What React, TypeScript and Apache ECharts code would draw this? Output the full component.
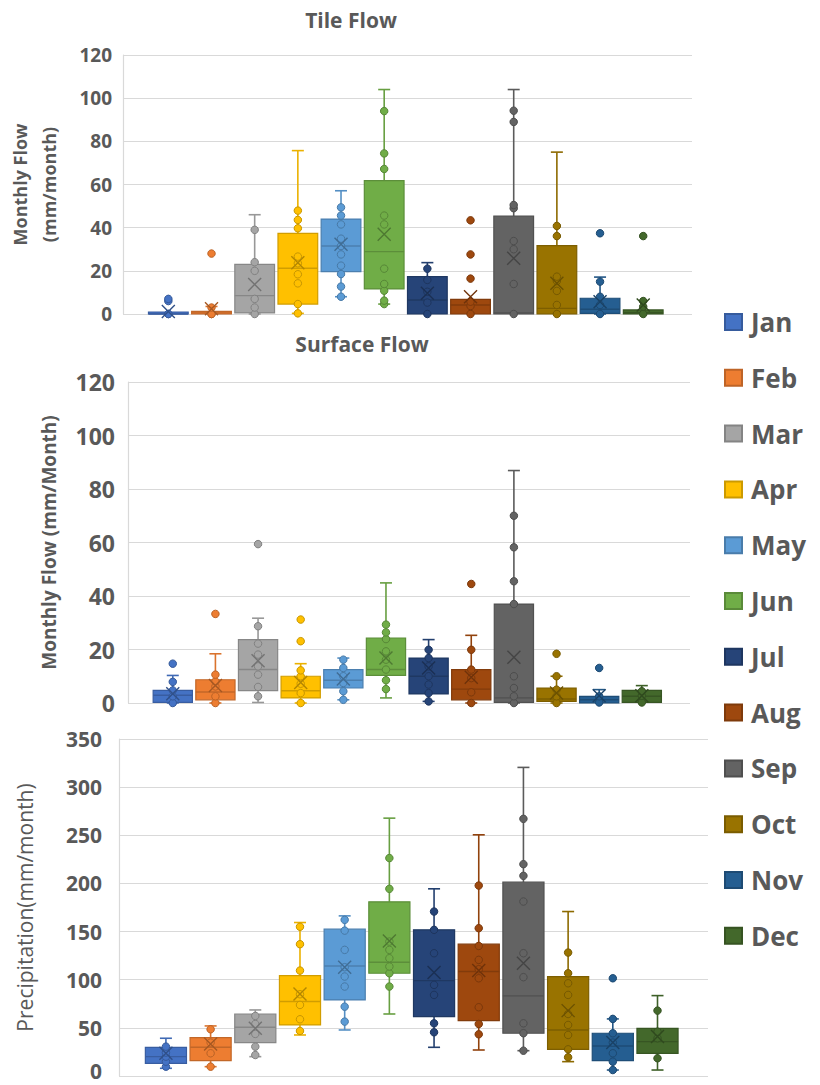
import React, { useEffect, useRef } from "react";
import * as echarts from "echarts";

const months = ["Jan", "Feb", "Mar", "Apr", "May", "Jun", "Jul", "Aug", "Sep", "Oct", "Nov", "Dec"];
const monthColors = ["#4472C4", "#ED7D31", "#A5A5A5", "#FFC000", "#5B9BD5", "#70AD47", "#264478", "#9E480E", "#636363", "#997300", "#255E91", "#43682B"];

// [min, q1, median, q3, max]
const tileBoxes = [
  [0, 0, 0, 0.5, 0.5],
  [0, 0, 0.5, 1.2, 3.5],
  [0, 0.5, 8.5, 23, 46],
  [0.3, 4.6, 21.2, 37.4, 75.7],
  [8, 19.6, 31.5, 44, 57.1],
  [4.6, 11.6, 28.9, 61.8, 104],
  [0, 0, 6.5, 17.3, 23.8],
  [0, 0, 4.2, 6.8, 7],
  [0, 0, 0.5, 45.4, 104],
  [0, 0, 2.6, 31.7, 75],
  [0, 0.3, 2.2, 7.3, 17.1],
  [0, 0, 0.6, 1.9, 1.9],
];
const tilePoints = [
  [0, 0, 6, 7],
  [0, 0, 3, 28],
  [0, 3, 7, 20, 24, 39],
  [0.3, 4.6, 14.2, 18.4, 23.5, 26.6, 39.7, 43.6, 47.9],
  [8, 12.7, 18.5, 22.4, 27.6, 31.5, 34.9, 41.5, 45.6, 49.4],
  [4.6, 6.2, 10.8, 13.9, 21, 41.5, 45.6, 67.2, 74.4, 94],
  [0, 5.3, 10.3, 15.8, 21],
  [0, 3.7, 5.7, 16.4, 27.6, 43.4],
  [0, 13.9, 30, 33.8, 49, 50.5, 89, 94.2],
  [0, 4.2, 10.7, 15.3, 17.3, 36.1, 40.8],
  [0, 4.2, 8, 15, 37.4],
  [0, 3.4, 6, 36.1],
];
const tileMeans = [1.2, 2.4, 13.7, 23.8, 32.3, 36.9, 9.6, 8, 25.8, 14.2, 5.7, 4.2];

const surfaceBoxes = [
  [0, 0.2, 2.9, 4.7, 10.3],
  [0, 1.2, 4.1, 8.7, 18.4],
  [0.2, 4.6, 12.5, 23.7, 31.7],
  [0, 1.9, 4.6, 10, 14.7],
  [1.2, 5.6, 8.5, 12.5, 16.8],
  [1.9, 10.3, 12.5, 24.3, 44.9],
  [0.6, 3.4, 10, 16.8, 23.7],
  [0, 1.2, 5.2, 12.5, 25.3],
  [0, 0.2, 1.9, 37, 86.9],
  [0, 0.6, 1.5, 5.6, 10],
  [0, 0, 1.2, 2.5, 5],
  [0.2, 0.2, 2.5, 4.7, 6.5],
];
const surfacePoints = [
  [0, 2.5, 4.7, 7.9, 14.7],
  [0, 2.5, 6.2, 8.1, 10.6, 33.3],
  [2.5, 6, 10.6, 13.7, 18.1, 22.2, 28.7, 59.4],
  [0, 3.7, 7.2, 10, 12.2, 23.1, 31.2],
  [1.2, 4.4, 7.5, 10, 13.1, 16.2],
  [5.2, 8.5, 12.5, 16.2, 19.3, 23.9, 26.4, 29.3],
  [0.6, 3.7, 6.9, 10, 13.7, 16.8, 19.9],
  [0, 4, 9.3, 12.5, 19.9, 44.5],
  [0, 2.5, 5.6, 10, 37, 45.5, 58.2, 70],
  [0, 2.5, 5, 10, 18.4],
  [0.2, 2.5, 13.1],
  [0.2, 2.7, 4.4],
];
const surfaceMeans = [3.5, 6.5, 15.8, 7.7, 9, 16.8, 13.1, 9.6, 17.1, 3.7, 2.7, 2.7];

const precipBoxes = [
  [8, 13.2, 20.1, 29.8, 39.2],
  [9.7, 15.9, 29.8, 39.8, 52],
  [20.1, 34.7, 50.6, 64.4, 68.6],
  [42.6, 53, 77.3, 104.3, 159.4],
  [47.8, 79, 114.3, 152.5, 166.3],
  [64.4, 106.7, 118.2, 180.9, 267.8],
  [29.8, 61.7, 99.1, 151.8, 194.4],
  [27, 57.5, 108.5, 136.9, 250.5],
  [26.3, 44.4, 83.2, 201.3, 320.5],
  [14.9, 27.7, 47.8, 103.3, 170.8],
  [6.2, 15.9, 31.2, 44.4, 59.3],
  [6.2, 23.6, 35.7, 49.5, 83.5],
];
const precipPoints = [
  [9.7, 14.9, 20.1, 24.3, 30.5],
  [9.7, 23.6, 34.7, 48.5],
  [21.8, 30.5, 43.7, 54, 62.4],
  [46.8, 58.9, 73.8, 84.9, 109.5, 136.9, 155],
  [56.5, 72, 92.9, 103.3, 113, 131, 151, 162.2],
  [92.9, 106.7, 113.7, 122.3, 131, 139.6, 194.4, 226.3],
  [45.4, 54.7, 84.2, 94.6, 127.5, 151.8, 170.8],
  [43.3, 54, 71.4, 101.5, 110.9, 120.6, 135.1, 153.5, 197.8],
  [26.3, 44.4, 54.7, 102.6, 127.5, 181.2, 207.9, 220, 267.1],
  [19.4, 27.7, 42.6, 53, 64.4, 84.2, 96.3, 106.7, 128.2],
  [6.2, 14.9, 23.6, 34.7, 44.4, 59.3, 101.5],
  [18.4, 39.2, 46, 67.9],
];
const precipMeans = [23.6, 33.3, 49.5, 85.2, 113, 140.3, 107.4, 109.5, 117.1, 67.9, 34.7, 40.9];

const FONT = "'Open Sans', 'DejaVu Sans', sans-serif";
const GRAY = "#595959";
const BOX_W = 0.92;

function shade(hex: string, f: number) {
  const n = parseInt(hex.slice(1), 16);
  const r = Math.round(((n >> 16) & 255) * f);
  const g = Math.round(((n >> 8) & 255) * f);
  const b = Math.round((n & 255) * f);
  return `rgb(${r},${g},${b})`;
}

function boxSeries(boxes: number[][], ax: number) {
  return {
    type: "custom",
    xAxisIndex: ax,
    yAxisIndex: ax,
    z: 2,
    data: boxes.map((b, i) => [i, ...b]),
    encode: { x: 0, y: [1, 2, 3, 4, 5] },
    renderItem: (params: any, api: any) => {
      const i = api.value(0);
      const c = monthColors[params.dataIndex];
      const bc = shade(c, 0.82);
      const half = api.size([BOX_W, 0])[0] / 2;
      const pMin = api.coord([i, api.value(1)]);
      const pQ1 = api.coord([i, api.value(2)]);
      const pMed = api.coord([i, api.value(3)]);
      const pQ3 = api.coord([i, api.value(4)]);
      const pMax = api.coord([i, api.value(5)]);
      const x = pQ1[0];
      const cap = 6;
      const h = Math.max(pQ1[1] - pQ3[1], 2);
      const wl = { stroke: shade(c, 0.92), lineWidth: 1.6 };
      const children: any[] = [];
      if (pMax[1] < pQ3[1] - 0.5) {
        children.push({ type: "line", shape: { x1: x, y1: pQ3[1], x2: x, y2: pMax[1] }, style: wl });
        children.push({ type: "line", shape: { x1: x - cap, y1: pMax[1], x2: x + cap, y2: pMax[1] }, style: wl });
      }
      if (pMin[1] > pQ1[1] + 0.5) {
        children.push({ type: "line", shape: { x1: x, y1: pQ1[1], x2: x, y2: pMin[1] }, style: wl });
        children.push({ type: "line", shape: { x1: x - cap, y1: pMin[1], x2: x + cap, y2: pMin[1] }, style: wl });
      }
      children.push({
        type: "rect",
        shape: { x: x - half, y: pQ1[1] - h, width: 2 * half, height: h },
        style: { fill: c, stroke: bc, lineWidth: 1.2 },
      });
      children.push({
        type: "line",
        shape: { x1: x - half, y1: pMed[1], x2: x + half, y2: pMed[1] },
        style: { stroke: bc, lineWidth: 1.4 },
      });
      return { type: "group", children };
    },
  };
}

function pointSeries(pts: number[][], ax: number) {
  return {
    type: "scatter",
    xAxisIndex: ax,
    yAxisIndex: ax,
    z: 3,
    symbol: "circle",
    symbolSize: 7.5,
    itemStyle: { opacity: 1 },
    data: pts.flatMap((arr, i) =>
      arr.map((v) => ({
        value: [i, v],
        itemStyle: { color: monthColors[i], borderColor: shade(monthColors[i], 0.78), borderWidth: 1, opacity: 1 },
      }))
    ),
  };
}

function meanSeries(means: number[], ax: number) {
  return {
    type: "scatter",
    xAxisIndex: ax,
    yAxisIndex: ax,
    z: 4,
    symbol: "path://M0,0L10,10M10,0L0,10",
    symbolSize: 13,
    itemStyle: { opacity: 1 },
    data: means.map((v, i) => ({
      value: [i, v],
      itemStyle: { color: "transparent", borderColor: shade(monthColors[i], 0.7), borderWidth: 1.4, opacity: 1 },
    })),
  };
}

function yAxisCfg(ax: number, max: number, interval: number, name: string, o: any) {
  const label: any = { fontSize: o.labelSize, fontWeight: "bold", color: GRAY, margin: o.margin, fontFamily: FONT, lineHeight: o.labelLH };
  if (o.liftZero) {
    label.formatter = (v: number) => (v === 0 ? "{z|0}" : String(v));
    label.rich = {
      z: { fontSize: o.labelSize, fontWeight: "bold", color: GRAY, fontFamily: FONT, lineHeight: o.labelLH, padding: [0, 0, o.liftZero, 0] },
    };
  }
  return {
    gridIndex: ax,
    type: "value",
    min: 0,
    max,
    interval,
    axisLabel: label,
    splitLine: { lineStyle: { color: "#d9d9d9", width: 1.2 } },
    axisLine: { show: true, onZero: false, lineStyle: { color: "#d9d9d9", width: 1.2 } },
    axisTick: { show: false },
    name,
    nameLocation: "middle",
    nameGap: o.nameGap,
    nameTextStyle: {
      fontSize: o.nameSize,
      fontWeight: o.nameWeight,
      color: GRAY,
      fontFamily: FONT,
      lineHeight: o.nameLH,
    },
  };
}

export default function App() {
  const ref = useRef<HTMLDivElement>(null);
  useEffect(() => {
    if (!ref.current) return;
    const chart = echarts.init(ref.current, null, { renderer: "svg" });
    const xAxis = [0, 1, 2].map((g) => ({
      gridIndex: g,
      type: "value",
      min: -1.05,
      max: 12.13,
      show: false,
    }));
    const option: any = {
      animation: false,
      backgroundColor: "#ffffff",
      textStyle: { fontFamily: FONT },
      grid: [
        { left: 123, top: 55, width: 569, height: 259, outerBoundsMode: "none" },
        { left: 128, top: 382, width: 562, height: 321, outerBoundsMode: "none" },
        { left: 119, top: 739, width: 589, height: 337, outerBoundsMode: "none" },
      ],
      xAxis,
      yAxis: [
        yAxisCfg(0, 120, 20, "Monthly Flow\n(mm/month)", { labelSize: 19, labelLH: 20, margin: 11, nameGap: 60, nameSize: 18, nameWeight: "bold", nameLH: 29 }),
        yAxisCfg(1, 120, 20, "Monthly Flow (mm/Month)", { labelSize: 23, labelLH: 22, margin: 13, nameGap: 68, nameSize: 19, nameWeight: "bold", nameLH: 22 }),
        yAxisCfg(2, 350, 50, "Precipitation(mm/month)", { labelSize: 21, labelLH: 18, liftZero: 10, margin: 17, nameGap: 82, nameSize: 21, nameWeight: "normal", nameLH: 24 }),
      ],
      legend: {
        orient: "vertical",
        left: 719,
        top: 302,
        icon: "rect",
        itemWidth: 17,
        itemHeight: 16,
        itemGap: 25.8,
        selectedMode: false,
        textStyle: { fontSize: 26, fontWeight: "bold", color: GRAY, fontFamily: FONT, lineHeight: 30, padding: [0, 0, 0, 4] },
        data: months,
      },
      graphic: [
        {
          type: "text",
          x: 351,
          y: 20,
          style: { text: "Tile Flow", fontSize: 21, fontWeight: "bold", fontFamily: FONT, fill: GRAY, align: "center", verticalAlign: "middle" },
        },
        {
          type: "text",
          x: 362,
          y: 344,
          style: { text: "Surface Flow", fontSize: 21, fontWeight: "bold", fontFamily: FONT, fill: GRAY, align: "center", verticalAlign: "middle" },
        },
      ],
      series: [
        boxSeries(tileBoxes, 0),
        pointSeries(tilePoints, 0),
        meanSeries(tileMeans, 0),
        boxSeries(surfaceBoxes, 1),
        pointSeries(surfacePoints, 1),
        meanSeries(surfaceMeans, 1),
        boxSeries(precipBoxes, 2),
        pointSeries(precipPoints, 2),
        meanSeries(precipMeans, 2),
        ...months.map((m, i) => ({
          type: "scatter",
          name: m,
          xAxisIndex: 0,
          yAxisIndex: 0,
          data: [],
          itemStyle: { color: monthColors[i], borderColor: shade(monthColors[i], 0.8), borderWidth: 1, opacity: 1 },
        })),
      ],
    };
    chart.setOption(option);
    return () => chart.dispose();
  }, []);
  return (
    <div
      ref={ref}
      style={{ position: "fixed", left: 0, top: 0, width: 820, height: 1085, background: "#fff" }}
    />
  );
}
